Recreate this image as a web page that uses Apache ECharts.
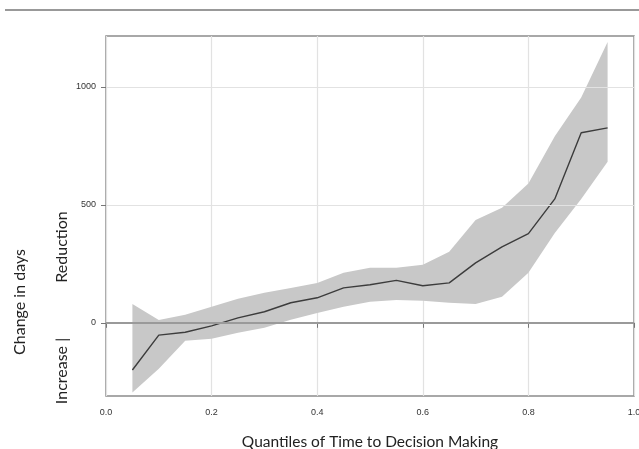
<!DOCTYPE html>
<html>
<head>
<meta charset="utf-8">
<script src="https://cdn.jsdelivr.net/npm/echarts@6/dist/echarts.min.js"></script>
<style>
  html, body { margin: 0; padding: 0; background: #fff; }
  #chart { width: 639px; height: 449px; }
</style>
</head>
<body>
<div id="chart"></div>
<script>
// quantile positions of the estimates
const quantiles = [0.05, 0.10, 0.15, 0.20, 0.25, 0.30, 0.35, 0.40, 0.45, 0.50,
                   0.55, 0.60, 0.65, 0.70, 0.75, 0.80, 0.85, 0.90, 0.95];
// estimated change in days and confidence band
const median = [-200, -52, -40, -13, 21, 47, 85, 106, 148, 161,
                180, 157, 169, 254, 322, 378, 525, 805, 826];
const upper = [80, 12, 34, 68, 102, 127, 148, 169, 212, 233,
               233, 246, 301, 436, 487, 590, 790, 955, 1190];
const lower = [-295, -195, -76, -68, -42, -21, 13, 42, 68, 89,
               97, 93, 85, 80, 110, 212, 380, 525, 682];
const xTicks = [0, 0.2, 0.4, 0.6, 0.8, 1.0];
const yTicks = [0, 500, 1000];

const chart = echarts.init(document.getElementById('chart'));

const bandData = quantiles.map((q, i) => [q, lower[i], upper[i]]);

// whole band as one polygon: upper edge left→right, lower edge right→left
function renderBand(params, api) {
  if (params.dataIndex !== 0) return null;
  const pts = [];
  for (let i = 0; i < bandData.length; i++) pts.push(api.coord([bandData[i][0], bandData[i][2]]));
  for (let i = bandData.length - 1; i >= 0; i--) pts.push(api.coord([bandData[i][0], bandData[i][1]]));
  return {
    type: 'polygon',
    shape: { points: pts },
    style: { fill: '#c8c8c8', stroke: null }
  };
}

const option = {
  backgroundColor: '#fff',
  animation: false,
  grid: {
    left: 106, right: 5, top: 36, bottom: 53,
    outerBoundsMode: 'none', containLabel: false,
    show: true, borderColor: '#8c8c8c', borderWidth: 1.5, backgroundColor: 'transparent'
  },
  xAxis: {
    type: 'value', min: 0, max: 1, interval: 0.2,
    name: 'Quantiles of Time to Decision Making',
    nameLocation: 'middle', nameGap: 38,
    nameTextStyle: { fontFamily: 'Lato', fontSize: 15.5, color: '#222' },
    axisLine: { show: false },
    axisTick: { show: true, length: 5, lineStyle: { color: '#777' } },
    axisLabel: {
      fontSize: 9, color: '#333', fontFamily: 'Liberation Sans', margin: 12,
      formatter: v => v.toFixed(1)
    },
    splitLine: { show: true, lineStyle: { color: '#e2e2e2', width: 1.2 } }
  },
  yAxis: {
    type: 'value', min: -310, max: 1215,
    axisLine: { show: false },
    axisTick: { show: true, length: 5, customValues: yTicks, lineStyle: { color: '#777' } },
    axisLabel: {
      fontSize: 9, color: '#333', fontFamily: 'Liberation Sans', margin: 10,
      customValues: yTicks, formatter: v => String(v)
    },
    splitLine: { show: false }
  },
  graphic: [
    { type: 'line', shape: { x1: 5, y1: 10, x2: 639, y2: 10 }, style: { stroke: '#999', lineWidth: 2 } },
    { type: 'text', x: 20, y: 302, rotation: Math.PI / 2,
      style: { text: 'Change in days', font: '16px Lato', fill: '#222', align: 'center', verticalAlign: 'middle' } },
    { type: 'text', x: 62, y: 247, rotation: Math.PI / 2,
      style: { text: 'Reduction', font: '16px Lato', fill: '#222', align: 'center', verticalAlign: 'middle' } },
    { type: 'text', x: 62, y: 371, rotation: Math.PI / 2,
      style: { text: 'Increase |', font: '16px Lato', fill: '#222', align: 'center', verticalAlign: 'middle' } }
  ],
  series: [
    {
      type: 'custom', data: bandData, renderItem: renderBand,
      encode: { x: 0, y: [1, 2] }, silent: true, z: 1,
      markLine: {
        silent: true, symbol: 'none', label: { show: false },
        data: yTicks.map(v => ({
          yAxis: v,
          lineStyle: v === 0
            ? { color: '#9a9a9a', width: 2, type: 'solid' }
            : { color: '#e2e2e2', width: 1.2, type: 'solid' }
        }))
      }
    },
    {
      type: 'line', data: quantiles.map((q, i) => [q, median[i]]), symbol: 'none',
      lineStyle: { color: '#3c3c3c', width: 1.4 }, z: 4
    }
  ]
};

chart.setOption(option);
</script>
</body>
</html>
